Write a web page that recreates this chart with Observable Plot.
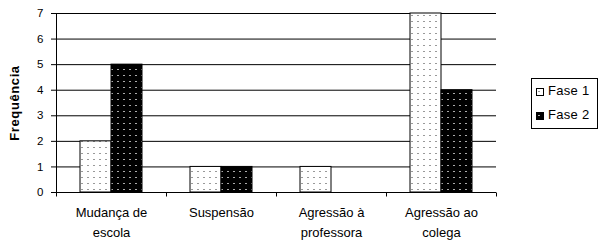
<!DOCTYPE html>
<html>
<head>
<meta charset="utf-8">
<script src="https://cdn.jsdelivr.net/npm/d3@7"></script>
<script src="https://cdn.jsdelivr.net/npm/@observablehq/plot@0.6"></script>
<style>
  html, body { margin: 0; padding: 0; background: #fff; }
  #wrap { position: relative; width: 599px; height: 241px; }
  #wrap svg [aria-label="y-axis label"] text { font-weight: bold; font-size: 13px; letter-spacing: 0.6px; }
  #legend { position: absolute; left: 531px; top: 78px; width: 67px; height: 51px;
            border: 1px solid #000; background: #fff; box-sizing: border-box;
            font: 13px "Liberation Sans", Arial, sans-serif; letter-spacing: 0.3px; color: #000; }
  #legend .item { position: absolute; left: 4px; height: 15px; line-height: 15px; white-space: nowrap; }
  #legend svg { vertical-align: -1px; margin-right: 4px; }
</style>
</head>
<body>
<div id="wrap"></div>
<script>
const categorias = ["Mudança de\nescola", "Suspensão", "Agressão à\nprofessora", "Agressão ao\ncolega"];
const series = ["Fase 1", "Fase 2"];
const fase1 = [2, 1, 1, 7];
const fase2 = [5, 1, 0, 4];
const yTicks = [0, 1, 2, 3, 4, 5, 6, 7];
const patternIds = ["pat1", "pat2"];

const data = categorias.flatMap((c, i) => [
  {cat: c, serie: series[0], v: fase1[i]},
  {cat: c, serie: series[1], v: fase2[i]}
]);

const chart = Plot.plot({
  width: 599,
  height: 241,
  marginLeft: 55,
  marginRight: 103,
  marginTop: 13,
  marginBottom: 49,
  style: {fontFamily: "'Liberation Sans', Arial, sans-serif", fontSize: "11px", color: "#000", background: "#fff", overflow: "visible"},
  fx: {domain: categorias, padding: 0, label: null, round: true},
  x: {domain: series, paddingInner: 0, paddingOuter: 0.75, axis: null, round: true},
  y: {domain: [0, 7], label: null},
  marks: [
    Plot.ruleY(yTicks.slice(1), {stroke: "#000", strokeWidth: 1}),
    Plot.barY(data.filter(d => d.serie === series[0]), {fx: "cat", x: "serie", y: "v", fill: "url(#pat1)", stroke: "#000", strokeWidth: 1}),
    Plot.barY(data.filter(d => d.serie === series[1] && d.v > 0), {fx: "cat", x: "serie", y: "v", fill: "url(#pat2)", stroke: "#000", strokeWidth: 1}),
    Plot.ruleY([0], {stroke: "#000", strokeWidth: 1}),
    Plot.axisY({ticks: yTicks, tickFormat: "d", tickSize: 5, tickPadding: 8, fontSize: 11.5,
                label: "Frequência", labelAnchor: "center", labelOffset: 47, labelArrow: "none"}),
    Plot.axisFx({anchor: "bottom", tickSize: 0, tickPadding: 10, fontSize: 13, lineHeight: 1.55, label: null,
                 style: {letterSpacing: "0.2px"}})
  ]
});

const svg = d3.select(chart);
svg.insert("defs", ":first-child").html(`
  <pattern id="pat1" width="6" height="6" patternUnits="userSpaceOnUse">
    <rect width="6" height="6" fill="#fff"/><rect x="2" y="3" width="2" height="1" fill="#999"/>
  </pattern>
  <pattern id="pat2" width="6" height="6" patternUnits="userSpaceOnUse">
    <rect width="6" height="6" fill="#000"/><rect x="2" y="3" width="2" height="1" fill="#aaa"/>
  </pattern>`);

// y-axis line and category boundary ticks, from the plot's own scales
const fx = chart.scale("fx");
const y = chart.scale("y");
const y0 = Math.round(y.apply(0)) + 0.5;
const yTop = Math.round(y.apply(7)) + 0.5;
const bounds = categorias.map(c => fx.apply(c)).concat([fx.apply(categorias[categorias.length - 1]) + fx.bandwidth]);
const g = svg.append("g").attr("stroke", "#000").attr("stroke-width", 1);
const xAxisX = Math.round(bounds[0]) + 0.5;
g.append("line").attr("x1", xAxisX).attr("x2", xAxisX).attr("y1", yTop).attr("y2", y0);
bounds.forEach(b => {
  const xb = Math.round(b) + 0.5;
  g.append("line").attr("x1", xb).attr("x2", xb).attr("y1", y0).attr("y2", y0 + 4);
});

document.getElementById("wrap").appendChild(chart);

// legend
const legend = d3.select("#wrap").append("div").attr("id", "legend");
series.forEach((s, i) => {
  const item = legend.append("div").attr("class", "item").style("top", (4 + i * 24) + "px");
  const sw = item.append("svg").attr("width", 8).attr("height", 8);
  sw.append("rect").attr("x", 0.5).attr("y", 0.5).attr("width", 7).attr("height", 7)
    .attr("fill", `url(#${patternIds[i]})`).attr("stroke", "#000");
  item.append("span").text(s);
});
</script>
</body>
</html>
